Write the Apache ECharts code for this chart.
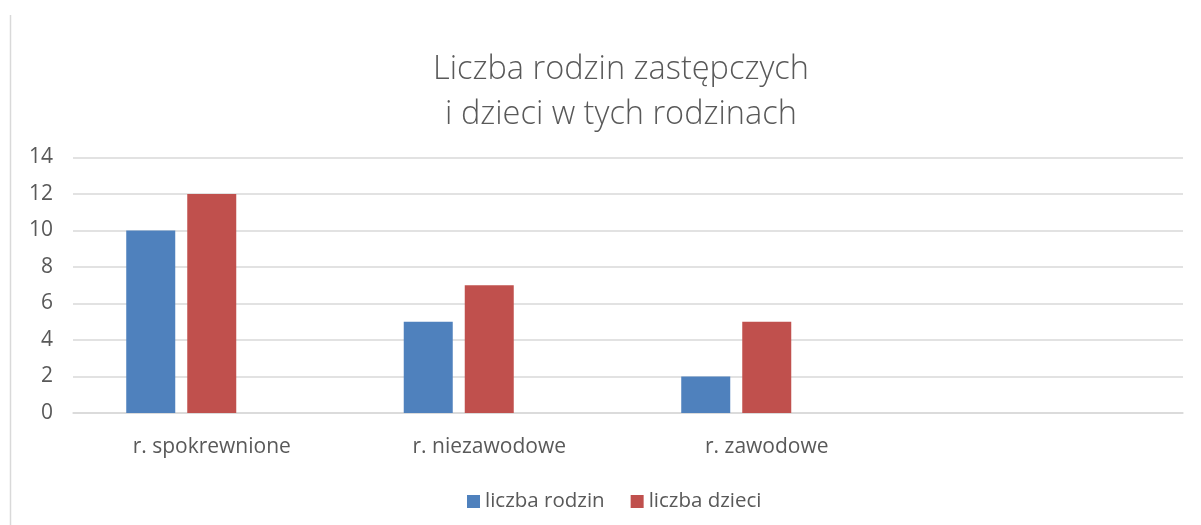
<!DOCTYPE html>
<html>
<head>
<meta charset="utf-8">
<script src="https://cdn.jsdelivr.net/npm/echarts@6/dist/echarts.min.js"></script>
<style>
html,body{margin:0;padding:0;background:#fff;}
#chart{width:1201px;height:525px;}
</style>
</head>
<body>
<div id="chart"></div>
<script>
const categories = ['r. spokrewnione', 'r. niezawodowe', 'r. zawodowe', ''];
const liczbaRodzin = [10, 5, 2, null];
const liczbaDzieci = [12, 7, 5, null];
const emptySeries = [null, null, null, null];
const yTicks = [0, 2, 4, 6, 8, 10, 12, 14];

const font = '"Open Sans", "Noto Sans", sans-serif';
const chart = echarts.init(document.getElementById('chart'), null, {renderer: 'canvas'});
chart.setOption({
  animation: false,
  backgroundColor: '#fff',
  title: {
    text: 'Liczba rodzin zastępczych\ni dzieci w tych rodzinach',
    left: 616,
    textAlign: 'center',
    top: 42,
    textStyle: {fontFamily: font, fontSize: 32.5, fontWeight: 300, color: '#595959', lineHeight: 45}
  },
  legend: {
    data: ['liczba rodzin', 'liczba dzieci'],
    left: 467,
    top: 491,
    padding: 0,
    itemWidth: 13,
    itemHeight: 13,
    itemGap: 26,
    icon: 'rect',
    textStyle: {fontFamily: font, fontSize: 20.5, color: '#595959'}
  },
  grid: {left: 73, right: 18, top: 157.5, bottom: 112, containLabel: false},
  xAxis: {
    type: 'category',
    data: categories,
    axisLine: {show: true, lineStyle: {color: '#d9d9d9', width: 1.5}},
    axisTick: {show: false},
    axisLabel: {fontFamily: font, fontSize: 21, color: '#595959', margin: 24}
  },
  yAxis: {
    type: 'value',
    min: yTicks[0],
    max: yTicks[yTicks.length - 1],
    interval: 2,
    axisLine: {show: false},
    axisTick: {show: false},
    splitLine: {lineStyle: {color: '#d9d9d9', width: 1.5}},
    axisLabel: {fontFamily: font, fontSize: 21, color: '#595959', margin: 20}
  },
  series: [
    {name: 'liczba rodzin', type: 'bar', data: liczbaRodzin, barWidth: 49, barGap: '24.5%', itemStyle: {color: '#4F81BD'}},
    {name: 'liczba dzieci', type: 'bar', data: liczbaDzieci, barWidth: 49, barGap: '24.5%', itemStyle: {color: '#C0504D'}},
    {name: 'seria3', type: 'bar', data: emptySeries, barWidth: 49, barGap: '24.5%', itemStyle: {color: '#9BBB59'}}
  ],
  graphic: [
    {type: 'line', shape: {x1: 10.5, y1: 15, x2: 10.5, y2: 525}, style: {stroke: '#d9d9d9', lineWidth: 1.5}}
  ]
});
</script>
</body>
</html>
